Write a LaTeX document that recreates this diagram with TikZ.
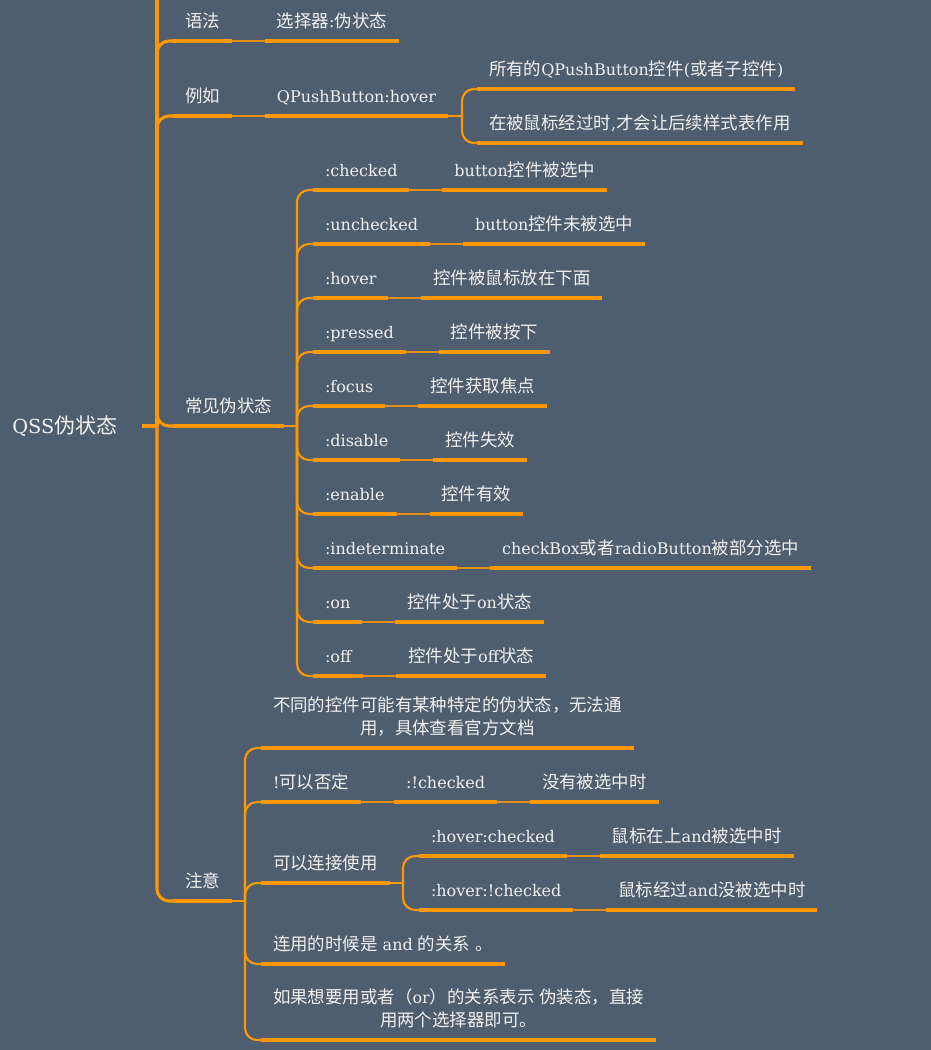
\documentclass[tikz,border=0pt]{standalone}
\usepackage{fontspec}
\usepackage{tikz}
\usetikzlibrary{positioning}
\setmainfont{DejaVu Serif}
\newfontfamily\cjkfont[Scale=1.09]{Noto Sans CJK SC}
\definecolor{bgslate}{RGB}{78,94,111}
\definecolor{branchorange}{RGB}{255,152,0}
\definecolor{topictext}{RGB}{240,240,240}

% switch to the CJK font for Chinese characters and full-width punctuation
\XeTeXinterchartokenstate=1
\newXeTeXintercharclass\cjkclass
\makeatletter
\count@="3000 \loop\ifnum\count@<"3040 \XeTeXcharclass\count@=\cjkclass \advance\count@ 1 \repeat
\count@="4E00 \loop\ifnum\count@<"A000 \XeTeXcharclass\count@=\cjkclass \advance\count@ 1 \repeat
\count@="FF00 \loop\ifnum\count@<"FFF0 \XeTeXcharclass\count@=\cjkclass \advance\count@ 1 \repeat
\makeatother
\XeTeXinterchartoks 0 \cjkclass = {\begingroup\cjkfont}
\XeTeXinterchartoks 4095 \cjkclass = {\begingroup\cjkfont}
\XeTeXinterchartoks \cjkclass 0 = {\endgroup}
\XeTeXinterchartoks \cjkclass 4095 = {\endgroup}

\begin{document}
\begin{tikzpicture}[
    x=0.75pt, y=-0.75pt,
    node distance=24.75pt,
    topic/.style={anchor=south west, inner xsep=9pt, inner ysep=0pt, outer sep=0pt,
        text height=10pt, text depth=10.5pt, text=topictext,
        font=\fontsize{12pt}{17.25pt}\selectfont},
    note topic/.style={topic, align=center},
    root topic/.style={inner xsep=18pt, outer sep=0pt, text=topictext,
        font=\fontsize{14.5pt}{17pt}\selectfont},
    underline/.style={draw=branchorange, line width=2.3pt},
    branch/.style={draw=branchorange, line width=1.6pt, rounded corners=9pt},
    trunk/.style={branch, line width=2.3pt},
    link/.style={draw=branchorange!85!bgslate, line width=1.6pt}
]
    \useasboundingbox (0,0) rectangle (931,1050);
    \fill[bgslate] (0,0) rectangle (931,1050);

    % Root
    \node[root topic] (qss) at (65,426) {QSS伪状态};
    \coordinate (rootfork) at (157,426);
    \coordinate (roottop) at (157,0);

    % Syntax and example
    \node[topic] (yufa) at (173,41) {语法};
    \node[topic, right=of yufa] (yufaval) {选择器:伪状态};
    \node[topic] (liru) at (173,116) {例如};
    \node[topic, right=of liru] (liruval) {QPushButton:hover};
    \coordinate (lirufork) at (462,116);
    \node[topic] (liru1) at (477,89) {所有的QPushButton控件(或者子控件)};
    \node[topic] (liru2) at (477,143) {在被鼠标经过时,才会让后续样式表作用};

    % Common pseudo states
    \node[topic] (changjian) at (173,426) {常见伪状态};
    \coordinate (cjfork) at (297,426);
    \foreach \st/\desc [count=\i] in {:checked/button控件被选中, :unchecked/button控件未被选中,
        :hover/控件被鼠标放在下面, :pressed/控件被按下, :focus/控件获取焦点, :disable/控件失效,
        :enable/控件有效, :indeterminate/checkBox或者radioButton被部分选中,
        :on/控件处于on状态, :off/控件处于off状态} {
        \node[topic] (st\i) at (313,136+54*\i) {\st};
        \node[topic, right=of st\i] (desc\i) {\desc};
        \draw[branch] (cjfork) |- (st\i.south west);
        \draw[underline] (st\i.south west) -- (st\i.south east);
        \draw[link] (st\i.south east) -- (desc\i.south west);
        \draw[underline] (desc\i.south west) -- (desc\i.south east);
    }

    % Notes
    \node[topic] (zhuyi) at (173,901) {注意};
    \coordinate (zyfork) at (245,901);
    \node[note topic] (zy1) at (261,748) {不同的控件可能有某种特定的伪状态，无法通\\用，具体查看官方文档};
    \node[topic] (zy2) at (261,802) {!可以否定};
    \node[topic, right=of zy2] (zy2a) {:!checked};
    \node[topic, right=of zy2a] (zy2b) {没有被选中时};
    \node[topic] (zy3) at (261,883) {可以连接使用};
    \coordinate (zy3fork) at (403,883);
    \node[topic] (zy3a) at (419,856) {:hover:checked};
    \node[topic, right=of zy3a] (zy3ad) {鼠标在上and被选中时};
    \node[topic] (zy3b) at (419,910) {:hover:!checked};
    \node[topic, right=of zy3b] (zy3bd) {鼠标经过and没被选中时};
    \node[topic] (zy4) at (261,964) {连用的时候是 and 的关系 。};
    \node[note topic] (zy5) at (261,1040) {如果想要用或者（or）的关系表示 伪装态，直接\\用两个选择器即可。};

    % Branches
    \draw[trunk] (qss.east) -- (rootfork);
    \draw[trunk] (roottop) -- (rootfork);
    \foreach \n in {yufa,liru,changjian,zhuyi}
        \draw[trunk] (rootfork) |- (\n.south west);
    \draw[branch] (liruval.south east) -- (lirufork);
    \foreach \n in {liru1,liru2}
        \draw[branch] (lirufork) |- (\n.south west);
    \draw[branch] (changjian.south east) -- (cjfork);
    \draw[branch] (zhuyi.south east) -- (zyfork);
    \foreach \n in {zy1,zy2,zy3,zy4,zy5}
        \draw[branch] (zyfork) |- (\n.south west);
    \draw[branch] (zy3.south east) -- (zy3fork);
    \foreach \n in {zy3a,zy3b}
        \draw[branch] (zy3fork) |- (\n.south west);

    % Links between topics on one line
    \draw[link] (yufa.south east) -- (yufaval.south west);
    \draw[link] (liru.south east) -- (liruval.south west);
    \draw[link] (zy2.south east) -- (zy2a.south west);
    \draw[link] (zy2a.south east) -- (zy2b.south west);
    \draw[link] (zy3a.south east) -- (zy3ad.south west);
    \draw[link] (zy3b.south east) -- (zy3bd.south west);

    % Underlines
    \foreach \n in {yufa,yufaval,liru,liruval,liru1,liru2,changjian,zhuyi,zy1,zy2,zy2a,zy2b,
        zy3,zy3a,zy3ad,zy3b,zy3bd,zy4,zy5}
        \draw[underline] (\n.south west) -- (\n.south east);
\end{tikzpicture}
\end{document}
